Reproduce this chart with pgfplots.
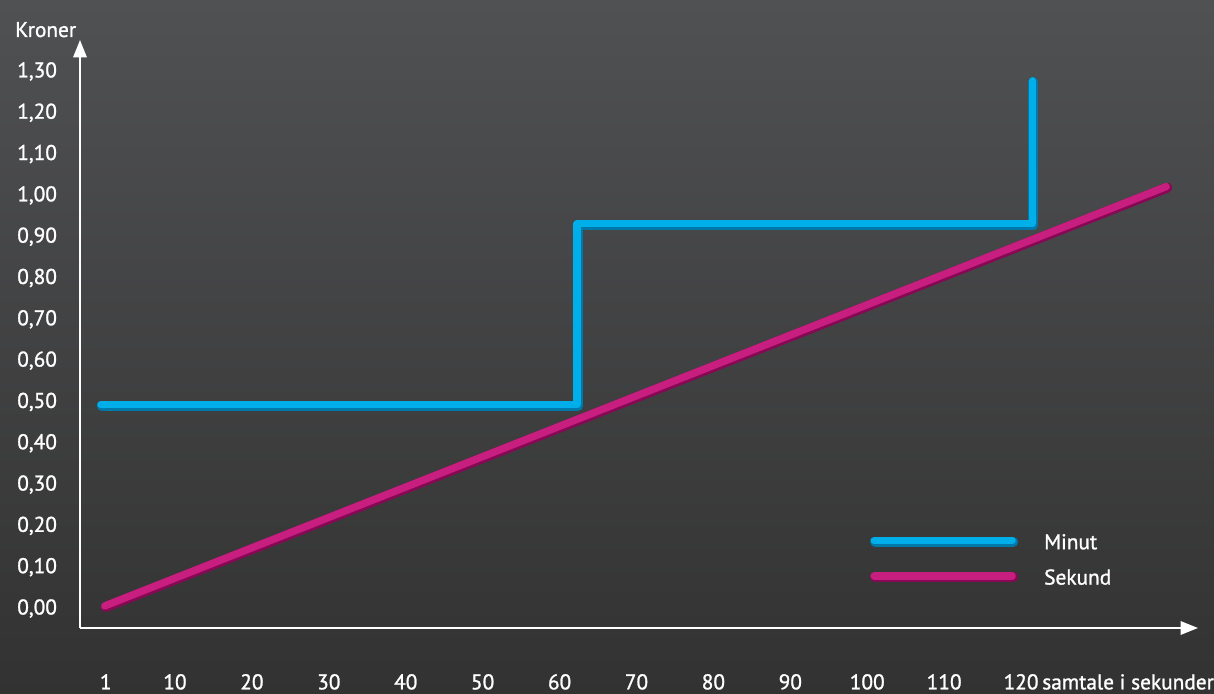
\documentclass[border=0pt]{standalone}
\usepackage{pgfplots}
\pgfplotsset{compat=1.18}
\usepackage{fontspec}
\setmainfont{PT Sans}[FakeBold=1.2]
\newfontfamily\lab{PT Sans}[FakeBold=1.2]
\usetikzlibrary{arrows.meta}

\definecolor{minut}{RGB}{0,174,234}
\definecolor{minutdark}{RGB}{0,120,170}
\definecolor{sekund}{RGB}{200,30,128}
\definecolor{sekunddark}{RGB}{135,8,84}
\definecolor{bgtop}{RGB}{80,81,83}
\definecolor{bgmid}{RGB}{68,69,70}
\definecolor{bgbot}{RGB}{50,50,50}

\begin{document}
\begin{tikzpicture}
% background, 1214 x 693 px (1px = 0.75pt), axis corner at (80px,628px)
\shade[top color=bgtop, middle color=bgmid, bottom color=bgbot]
  (-60pt,-48.75pt) rectangle (850.5pt,471pt);
\begin{axis}[
    at={(0pt,0pt)}, anchor=south west,
    scale only axis,
    width=838.5pt, height=441pt,
    xmin=-2.35, xmax=143,
    ymin=-0.0508, ymax=1.3725,
    axis lines=left,
    axis line style={white, line width=1.5pt, -{Triangle[width=10pt,length=13pt]}},
    major tick length=0pt,
    xtick={1,10,20,30,40,50,60,70,80,90,100,110,120},
    ytick={0,0.1,0.2,0.3,0.4,0.5,0.6,0.7,0.8,0.9,1.0,1.1,1.2,1.3},
    tick label style={white, font=\lab\fontsize{16}{18}\selectfont, inner sep=0pt},
    xticklabel style={anchor=base, yshift=-46pt},
    yticklabel style={anchor=base west, xshift=-47.25pt, yshift=-5.6pt},
    /pgf/number format/assume math mode=true,
    yticklabel={\pgfmathprintnumber[fixed, fixed zerofill, precision=2, use comma]{\tick}},
    xlabel={samtale i sekunder},
    xlabel style={white, font=\lab\fontsize{16}{18}\selectfont, inner sep=0pt,
      at={(axis cs:-2.35,-0.0508)}, anchor=base west, xshift=721.5pt, yshift=-46pt},
    ylabel={Kroner},
    ylabel style={white, font=\lab\fontsize{16}{18}\selectfont, inner sep=0pt, rotate=-90,
      at={(rel axis cs:0,1)}, anchor=base west, xshift=-48.75pt, yshift=2.25pt},
    legend cell align=left,
    legend style={draw=none, fill=none, text=white, font=\lab\fontsize{16}{18}\selectfont,
      at={(axis cs:100.35,0.177)}, anchor=north west, inner sep=0pt,
      row sep=15.2pt, column sep=19.5pt,
      nodes={inner sep=0pt, text height=11.3pt, text depth=0pt}},
    clip=false,
]

% Minut
\addplot[minutdark, line width=7.5pt, line cap=round, line join=round, forget plot]
  coordinates {(0.5,0.487)(62.4,0.487)(62.4,0.925)(121.6,0.925)(121.6,1.271)};
\addplot[minut, line width=5.5pt, line cap=round, line join=round, forget plot,
  xshift=-0.8pt, yshift=0.8pt]
  coordinates {(0.5,0.487)(62.4,0.487)(62.4,0.925)(121.6,0.925)(121.6,1.271)};

% Sekund
\addplot[sekunddark, line width=7.5pt, line cap=round, forget plot]
  coordinates {(1,0.0)(139,1.015)};
\addplot[sekund, line width=5.5pt, line cap=round, forget plot,
  xshift=-0.8pt, yshift=0.8pt]
  coordinates {(1,0.0)(139,1.015)};

\addlegendimage{legend image code/.code={
  \draw[minutdark, line width=7.5pt, line cap=round] (0pt,0pt) -- (103.5pt,0pt);
  \draw[minut, line width=5.5pt, line cap=round] (-0.8pt,0.8pt) -- (102.7pt,0.8pt);}}
\addlegendentry{Minut}
\addlegendimage{legend image code/.code={
  \draw[sekunddark, line width=7.5pt, line cap=round] (0pt,0pt) -- (103.5pt,0pt);
  \draw[sekund, line width=5.5pt, line cap=round] (-0.8pt,0.8pt) -- (102.7pt,0.8pt);}}
\addlegendentry{Sekund}
\end{axis}
\pgfresetboundingbox
\useasboundingbox (-60pt,-48.75pt) rectangle (850.5pt,471pt);
\end{tikzpicture}
\end{document}
